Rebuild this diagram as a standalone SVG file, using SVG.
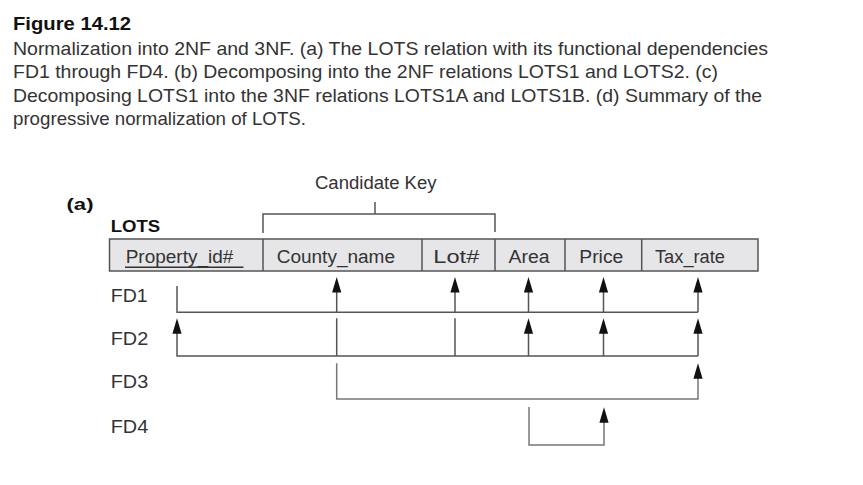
<svg xmlns="http://www.w3.org/2000/svg" width="863" height="485" viewBox="0 0 863 485">
<style>
text{font-family:"Liberation Sans",Arial,sans-serif;fill:#333}
.cap{font-size:18.5px}
.b{font-weight:bold;fill:#111}
.cell{font-size:18px}
.fd{font-size:19px}
.ln{fill:none;stroke:#555;stroke-width:1.5}
.lt{fill:none;stroke:#777;stroke-width:1.5}
.tbl{fill:#e6e6e9;stroke:#555;stroke-width:1.5}
</style>
<defs>
<path id="ah" d="M0 0 L4.6 15.5 L-4.6 15.5 Z" fill="#111"/>
</defs>
<g id="caption">
<text class="b" x="13" y="30" font-size="18" textLength="118" lengthAdjust="spacingAndGlyphs">Figure 14.12</text>
<text class="cap" x="13" y="55" textLength="755" lengthAdjust="spacingAndGlyphs">Normalization into 2NF and 3NF. (a) The LOTS relation with its functional dependencies</text>
<text class="cap" x="13" y="78.3" textLength="705" lengthAdjust="spacingAndGlyphs">FD1 through FD4. (b) Decomposing into the 2NF relations LOTS1 and LOTS2. (c)</text>
<text class="cap" x="13" y="101.6" textLength="749" lengthAdjust="spacingAndGlyphs">Decomposing LOTS1 into the 3NF relations LOTS1A and LOTS1B. (d) Summary of the</text>
<text class="cap" x="13" y="124.8" textLength="293" lengthAdjust="spacingAndGlyphs">progressive normalization of LOTS.</text>
</g>
<g id="labels">
<text class="b" x="66.5" y="210" font-size="17" textLength="27" lengthAdjust="spacingAndGlyphs">(a)</text>
<text class="b" x="110.7" y="231.7" font-size="17" textLength="49.5" lengthAdjust="spacingAndGlyphs">LOTS</text>
<text class="cell" x="315" y="188.5" textLength="121.5" lengthAdjust="spacingAndGlyphs">Candidate Key</text>
<text class="fd" x="110.7" y="302" textLength="37" lengthAdjust="spacingAndGlyphs">FD1</text>
<text class="fd" x="110.7" y="345" textLength="37.5" lengthAdjust="spacingAndGlyphs">FD2</text>
<text class="fd" x="110.7" y="388" textLength="37.5" lengthAdjust="spacingAndGlyphs">FD3</text>
<text class="fd" x="110.7" y="433" textLength="37.5" lengthAdjust="spacingAndGlyphs">FD4</text>
</g>
<g id="candidate-key">
<path class="ln" d="M263 233 V214 H495 V232 M375 202 V214"/>
</g>
<g id="LOTS">
<rect class="tbl" x="109.5" y="239" width="648.5" height="32"/>
<path class="ln" d="M263 239 V271 M422 239 V271 M495 239 V271 M565 239 V271 M641.7 239 V271"/>
<text class="cell" x="125.7" y="263" textLength="107.6" lengthAdjust="spacingAndGlyphs">Property_id#</text>
<line x1="125" y1="267.3" x2="243.5" y2="267.3" stroke="#333" stroke-width="1.4"/>
<text class="cell" x="276.7" y="263" textLength="118.3" lengthAdjust="spacingAndGlyphs">County_name</text>
<text class="cell" x="433.3" y="263" textLength="46" lengthAdjust="spacingAndGlyphs">Lot#</text>
<text class="cell" x="508.5" y="263" textLength="41" lengthAdjust="spacingAndGlyphs">Area</text>
<text class="cell" x="579.3" y="263" textLength="44" lengthAdjust="spacingAndGlyphs">Price</text>
<text class="cell" x="655" y="263" textLength="70" lengthAdjust="spacingAndGlyphs">Tax_rate</text>
</g>
<g id="connectors">
<g id="FD1-conn">
<path class="ln" d="M177 286 V312.3 H698 M336.7 312.3 V290 M455 312.3 V290 M528.5 312.3 V290 M603.5 312.3 V290 M698 312.3 V290"/>
<use href="#ah" x="336.7" y="277"/>
<use href="#ah" x="455" y="277"/>
<use href="#ah" x="528.5" y="277"/>
<use href="#ah" x="603.5" y="277"/>
<use href="#ah" x="698" y="277"/>
</g>
<g id="FD2-conn">
<path class="ln" d="M177 331 V356 H698 M336.7 318.3 V356 M455 318.3 V356 M528.5 356 V331 M603.5 356 V331 M698 356 V331"/>
<use href="#ah" x="177" y="318.3"/>
<use href="#ah" x="528.5" y="318.3"/>
<use href="#ah" x="603.5" y="318.3"/>
<use href="#ah" x="698" y="318.3"/>
</g>
<g id="FD3-conn">
<path class="lt" d="M336.7 363.3 V399 H698 V376"/>
<use href="#ah" x="698" y="363.3"/>
</g>
<g id="FD4-conn">
<path class="lt" d="M529 407 V445 H604 V420"/>
<use href="#ah" x="604" y="407.3"/>
</g>
</g>
</svg>
